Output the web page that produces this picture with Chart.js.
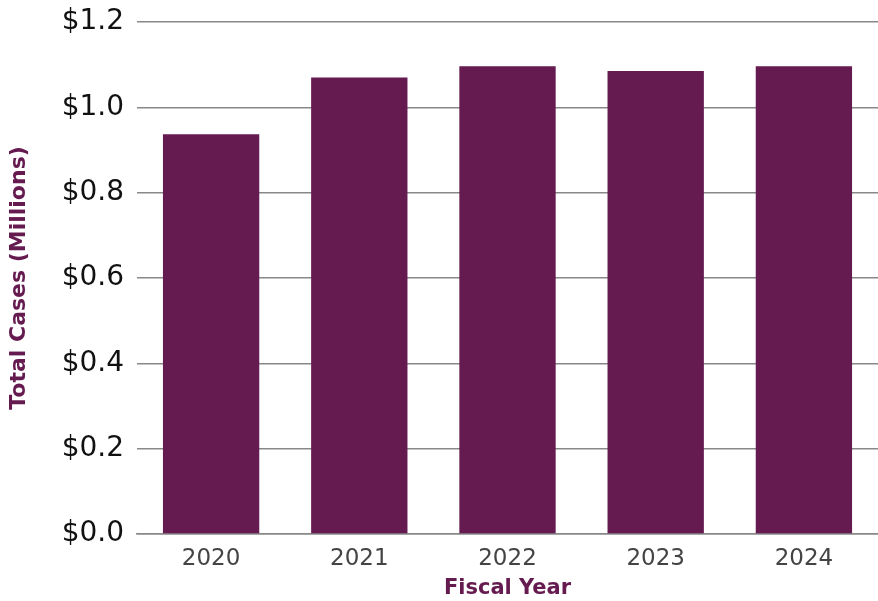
<!DOCTYPE html>
<html>
<head>
<meta charset="utf-8">
<script src="https://cdn.jsdelivr.net/npm/chart.js@4/dist/chart.umd.min.js"></script>
<style>
  html, body { margin: 0; padding: 0; background: #fff; }
  #wrap { width: 878px; height: 601px; }
</style>
</head>
<body>
<div id="wrap"><canvas id="chart"></canvas></div>
<script>
const years = ["2020", "2021", "2022", "2023", "2024"];
const totalCases = [0.937, 1.070, 1.096, 1.085, 1.096];
const yTicks = [0, 0.2, 0.4, 0.6, 0.8, 1.0, 1.2];

const purple = "#651a50";
const gridGray = "#888888";

var ctx = document.getElementById("chart").getContext("2d");
var myChart = new Chart(ctx, {
  type: "bar",
  data: {
    labels: years,
    datasets: [
      {
        label: "Total Cases",
        data: totalCases,
        backgroundColor: purple,
        borderWidth: 0,
        barPercentage: 0.65,
        categoryPercentage: 1.0,
      },
    ],
  },
  options: {
    responsive: true,
    maintainAspectRatio: false,
    animation: false,
    layout: {
      padding: { top: 22, right: 0, left: 6, bottom: 0 }
    },
    plugins: {
      legend: { display: false },
      tooltip: { enabled: false }
    },
    scales: {
      y: {
        min: 0,
        max: 1.2,
        afterBuildTicks: function (axis) {
          axis.ticks = yTicks.map(function (v) { return { value: v }; });
        },
        afterFit: function (axis) {
          axis.width = 131;
          axis.paddingTop = 0;
          axis.paddingBottom = 0;
        },
        ticks: {
          color: "#111",
          font: { family: "DejaVu Sans", size: 28 },
          padding: 13,
          callback: function (v) { return "$" + Number(v).toFixed(1); }
        },
        grid: {
          color: gridGray,
          lineWidth: 1.5,
          drawTicks: false,
        },
        border: { display: false },
        title: {
          display: true,
          text: "Total Cases (Millions)",
          color: purple,
          font: { family: "DejaVu Sans", size: 22, weight: "bold" },
          padding: { top: 0, bottom: 4 }
        }
      },
      x: {
        afterFit: function (axis) {
          axis.height = 67;
          axis.paddingLeft = 0;
          axis.paddingRight = 0;
        },
        ticks: {
          color: "#444",
          font: { family: "DejaVu Sans", size: 23 },
          padding: 3
        },
        grid: { display: false },
        border: { display: true, color: gridGray, width: 1.5 },
        title: {
          display: true,
          text: "Fiscal Year",
          color: purple,
          font: { family: "DejaVu Sans", size: 21, weight: "bold" },
          padding: { top: 0, bottom: 0 }
        }
      }
    },
  },
});
</script>
</body>
</html>
